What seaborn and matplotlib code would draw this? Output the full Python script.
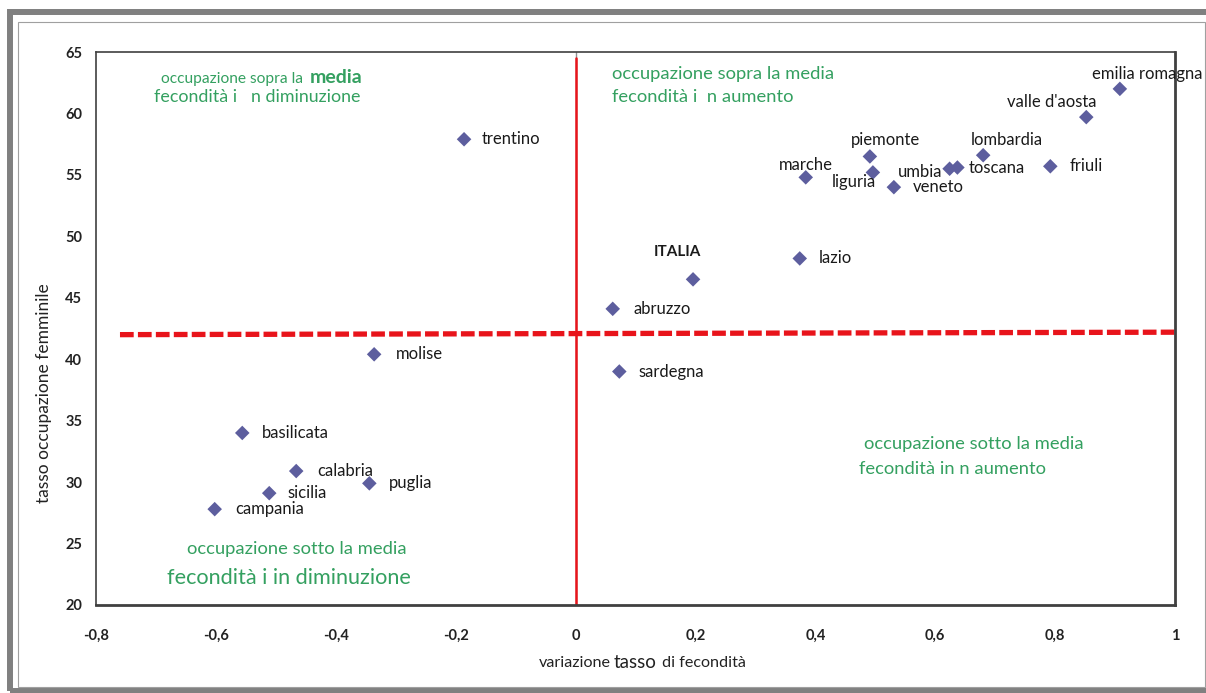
import matplotlib
matplotlib.use("Agg")
import matplotlib.pyplot as plt
import seaborn as sns
import pandas as pd
from matplotlib.patches import Rectangle

# regioni: variazione tasso di fecondità vs tasso occupazione femminile
regioni = ["emilia romagna", "valle d'aosta", "lombardia", "friuli", "toscana",
           "umbia", "piemonte", "liguria", "marche", "veneto", "trentino",
           "ITALIA", "lazio", "abruzzo", "sardegna", "molise", "basilicata",
           "calabria", "puglia", "sicilia", "campania"]
var_fecondita = [0.908, 0.852, 0.680, 0.792, 0.637, 0.624, 0.491, 0.496, 0.384,
                 0.531, -0.186, 0.196, 0.374, 0.062, 0.073, -0.336, -0.556,
                 -0.466, -0.344, -0.511, -0.602]
occ_femminile = [62.0, 59.7, 56.6, 55.7, 55.6, 55.5, 56.5, 55.2, 54.8, 54.0, 57.9,
                 46.5, 48.2, 44.1, 39.0, 40.4, 34.0, 30.9, 29.9, 29.1, 27.8]

x_ticks = [-0.8, -0.6, -0.4, -0.2, 0, 0.2, 0.4, 0.6, 0.8, 1]
x_labels = ["-0,8", "-0,6", "-0,4", "-0,2", "0", "0,2", "0,4", "0,6", "0,8", "1"]
y_ticks = [20, 25, 30, 35, 40, 45, 50, 55, 60, 65]

media_occ = [42.0, 42.2]   # linea media occupazione (leggermente inclinata nell'originale)

df = pd.DataFrame({"regione": regioni, "x": var_fecondita, "y": occ_femminile})

# offset etichette in punti (dx, dy, ha)
label_pos = {
    "emilia romagna": (20, 11, "center"), "valle d'aosta": (-25, 11, "center"),
    "lombardia": (17, 11, "center"), "friuli": (14, 0, "left"),
    "toscana": (8, 0, "left"), "umbia": (-5, -2, "right"),
    "piemonte": (11, 12, "center"), "liguria": (2, -7, "right"),
    "marche": (0, 9, "center"), "veneto": (14, 0, "left"),
    "trentino": (13, 0, "left"), "ITALIA": (-11.5, 19.5, "center"),
    "lazio": (14, 0, "left"), "abruzzo": (15, 0, "left"),
    "sardegna": (14, 0, "left"), "molise": (16, 0, "left"),
    "basilicata": (14, 0, "left"), "calabria": (15, 0, "left"),
    "puglia": (14, 0, "left"), "sicilia": (13, 0, "left"),
    "campania": (15, 0, "left"),
}

sns.set_style("white")
plt.rcParams["font.family"] = ["Lato", "DejaVu Sans"]

W, H = 1206, 693
fig = plt.figure(figsize=(W / 100, H / 100), dpi=100)
ax = fig.add_axes([96 / W, 88 / H, 1079 / W, 553 / H])

# cornici esterne stile Excel
fig.patches.append(Rectangle((10 / W, 2 / H), 1210 / W, 679 / H,
                             transform=fig.transFigure, fill=False,
                             edgecolor="#808080", linewidth=4.3))
fig.patches.append(Rectangle((18 / W, 6 / H), 1187 / W, 665 / H,
                             transform=fig.transFigure, fill=False,
                             edgecolor="#a0a0a0", linewidth=0.8))

ax.axvline(0, color="#909090", lw=1, zorder=1)
ax.plot([0, 0], [20, 64.5], color="#e8141b", lw=1.8, zorder=2)
ax.plot([-0.76, 1.0], media_occ, color="#e8141b", lw=3.8, dashes=(2.6, 0.8), zorder=2)

sns.scatterplot(data=df, x="x", y="y", marker="D", s=55, color="#5d5e9e",
                edgecolor="none", ax=ax, zorder=3)

for r, xv, yv in zip(regioni, var_fecondita, occ_femminile):
    dx, dy, ha = label_pos[r]
    is_it = r == "ITALIA"
    ax.annotate(r, (xv, yv), xytext=(dx, dy), textcoords="offset points",
                ha=ha, va="center", fontsize=11 if is_it else 12, color="#1a1a1a",
                fontweight="bold" if is_it else "normal",
                annotation_clip=False)

green = "#34a060"
ax.text(-0.692, 62.8, "occupazione sopra la", color=green, fontsize=11.2, va="center")
ax.text(-0.444, 62.9, "media", color=green, fontsize=14, fontweight="bold", va="center")
ax.text(-0.704, 61.35, "fecondità i   n diminuzione", color=green, fontsize=12.9, va="center")
ax.text(0.060, 63.2, "occupazione sopra la media", color=green, fontsize=13.2, va="center")
ax.text(0.060, 61.34, "fecondità i  n aumento", color=green, fontsize=13.2, va="center")
ax.text(0.481, 33.1, "occupazione sotto la media", color=green, fontsize=13.2, va="center")
ax.text(0.473, 31.07, "fecondità in n aumento", color=green, fontsize=13.2, va="center")
ax.text(-0.649, 24.56, "occupazione sotto la media", color=green, fontsize=13.2, va="center")
ax.text(-0.681, 22.2, "fecondità i in diminuzione", color=green, fontsize=15.6, va="center")

ax.set_xlim(-0.8, 1)
ax.set_ylim(20, 65)
ax.set_xticks(x_ticks)
ax.set_xticklabels(x_labels)
ax.set_yticks(y_ticks)
ax.tick_params(length=0, labelsize=10.5, colors="#222222", pad=10)
for lab in ax.get_xticklabels() + ax.get_yticklabels():
    lab.set_fontweight("bold")
ax.tick_params(axis="x", pad=17)

for s in ["top", "left"]:
    ax.spines[s].set_color("#404040")
    ax.spines[s].set_linewidth(1.2)
for s in ["right", "bottom"]:
    ax.spines[s].set_color("#404040")
    ax.spines[s].set_linewidth(2)

ax.set_xlabel("")
ax.set_ylabel("tasso occupazione femminile", fontsize=12.5, color="#222222")
ax.yaxis.set_label_coords(-0.041, 0.383)
fig.text(611 / W, 1 - 663 / H, "variazione", fontsize=11.6, color="#222222", ha="right", va="center")
fig.text(614 / W, 1 - 662 / H, "tasso", fontsize=13.5, color="#222222", ha="left", va="center")
fig.text(662 / W, 1 - 663 / H, "di fecondità", fontsize=11.6, color="#222222", ha="left", va="center")

fig.savefig("out.png", dpi=100)
